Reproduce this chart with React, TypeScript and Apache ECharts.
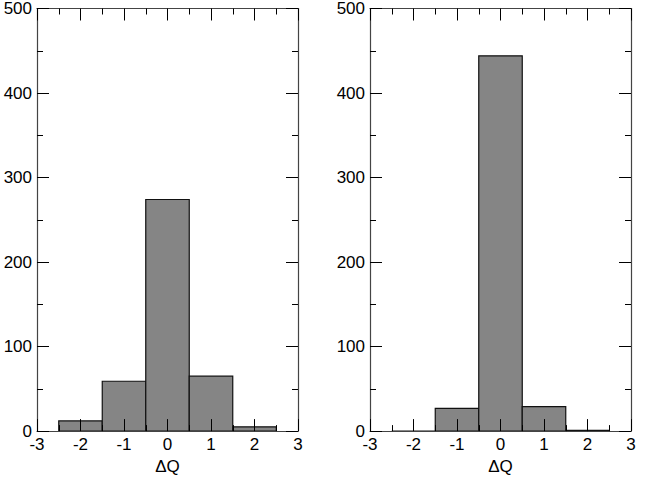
import React, { useEffect, useRef } from "react";
import * as echarts from "echarts";

const binCenters = [-2, -1, 0, 1, 2];
const leftCounts = [12, 59, 274, 65, 5];
const rightCounts = [0, 27, 444, 29, 1];
const xTicks = [-3, -2, -1, 0, 1, 2, 3];
const yTicks = [0, 100, 200, 300, 400, 500];
const axisName = "ΔQ";

const FONT = "Liberation Sans";

export default function App() {
  const ref = useRef<HTMLDivElement>(null);
  useEffect(() => {
    if (!ref.current) return;
    const chart = echarts.init(ref.current, null, { renderer: "svg" });
    const grids = [
      { left: 37, right: 356, top: 8, bottom: 40 },
      { left: 370, right: 23, top: 8, bottom: 40 },
    ];
    const lineStyle = { color: "#000", width: 1 };
    const axisLineStyle = { color: "#444", width: 1.2 };
    const xAxes: any[] = [];
    const yAxes: any[] = [];
    [0, 1].forEach((g) => {
      const base = {
        gridIndex: g,
        type: "value",
        z: 10,
        min: xTicks[0],
        max: xTicks[xTicks.length - 1],
        interval: 1,
        axisLine: { show: true, onZero: false, lineStyle: axisLineStyle },
        axisTick: { show: true, inside: true, length: 12, lineStyle },
        minorTick: { show: true, splitNumber: 2, length: 6, lineStyle },
        splitLine: { show: false },
      };
      xAxes.push({
        ...base,
        position: "bottom",
        name: axisName,
        nameLocation: "middle",
        nameGap: 26,
        nameTextStyle: { fontFamily: FONT, fontSize: 17, color: "#000" },
        axisLabel: { show: true, fontFamily: FONT, fontSize: 17, color: "#000", margin: 5 },
      });
      xAxes.push({ ...base, position: "top", axisLabel: { show: false } });
      const ybase = {
        gridIndex: g,
        type: "value",
        z: 10,
        min: yTicks[0],
        max: yTicks[yTicks.length - 1],
        interval: 100,
        axisLine: { show: true, onZero: false, lineStyle: axisLineStyle },
        axisTick: { show: true, inside: true, length: 12, lineStyle },
        minorTick: { show: true, splitNumber: 2, length: 6, lineStyle },
        splitLine: { show: false },
      };
      yAxes.push({
        ...ybase,
        position: "left",
        axisLabel: { show: true, fontFamily: FONT, fontSize: 17, color: "#000", margin: 5 },
      });
      yAxes.push({ ...ybase, position: "right", axisLabel: { show: false } });
    });

    const makeSeries = (counts: number[], g: number) => ({
      type: "custom",
      z: 1,
      xAxisIndex: g * 2,
      yAxisIndex: g * 2,
      data: binCenters.map((c, i) => [c, counts[i]]),
      renderItem: (params: any, api: any) => {
        const x = api.value(0);
        const y = api.value(1);
        const p0 = api.coord([x - 0.5, y]);
        const p1 = api.coord([x + 0.5, 0]);
        return {
          type: "rect",
          shape: { x: p0[0], y: p0[1], width: p1[0] - p0[0], height: p1[1] - p0[1] },
          style: { fill: "#858585", stroke: "#111", lineWidth: 1.2 },
        };
      },
    });

    chart.setOption({
      animation: false,
      backgroundColor: "#fff",
      grid: grids,
      xAxis: xAxes,
      yAxis: yAxes,
      series: [makeSeries(leftCounts, 0), makeSeries(rightCounts, 1)],
    });
    return () => chart.dispose();
  }, []);
  return (
    <div
      ref={ref}
      style={{ position: "absolute", left: 0, top: 0, width: 654, height: 480 }}
    />
  );
}
